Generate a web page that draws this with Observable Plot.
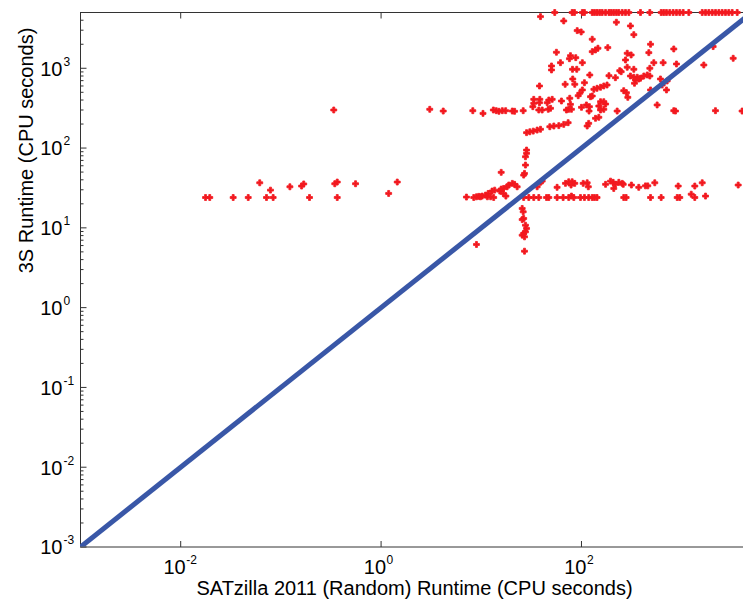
<!DOCTYPE html>
<html>
<head>
<meta charset="utf-8">
<script src="https://cdn.jsdelivr.net/npm/d3@7"></script>
<script src="https://cdn.jsdelivr.net/npm/@observablehq/plot@0.6"></script>
<style>
  html, body { margin: 0; padding: 0; background: #ffffff; }
  #chart svg { display: block; }
</style>
</head>
<body>
<div id="chart"></div>
<script>
// ---- Data ----
// SATzilla 2011 (Random) runtime (x) vs 3S runtime (y), CPU seconds
const satzillaRuntime = [
  0.0177,0.0195,0.0334,0.0472,0.0615,0.0718,0.0787,0.0837,0.123,0.161,0.169,0.193,0.345,0.365,0.365,0.556,1.19,1.45,0.337,3.06,4.17,
  8.23,10.4,13.2,14.1,15.0,16.2,17.5,20.4,21.5,26.2,
  32.7,33.4,38.4,33.4,38.1,37.5,40.5,47.2,51,45.5,46.6,49.1,63.1,76.4,77.6,70.8,74.6,79.4,100,112,120,119,123,92.7,96.2,102,107,81.8,68.7,85.7,38.1,121,50.2,50.2,81.3,89.7,61.7,102,56.2,77.6,75.8,87.7,128,128,90.6,99.3,66.5,39,
  28.3,30.5,33,36.1,39,48.3,53,59.4,66.5,73.6,118,114,
  28.3,28.3,27.6,27.6,27,26.5,15.8,
  20.4,21.5,22.8,18.8,18.1,16.7,15.8,15.3,16.6,17.6,13.6,12.8,11.7,11,10.2,9.44,8.95,7.11,11.5,12.4,13.3,9.8,8.41,
  26.5,29.8,33.4,37.5,44.8,47.2,57.1,65.6,74.6,79.4,83.8,97.7,107,118,128,135,143,264,279,489,624,902,957,1352,1730,1245,
  36.1,39,40.5,
  57.1,69.2,74.6,80.7,85.7,78.7,104,114,117,174,195,207,218,210,236,255,261,315,373,435,459,539,923,1352,1603,3664,
  25.6,26.2,26.5,27.6,28.3,27.6,26.5,25.6,27,27,8.95,25.6,
  223,308,333,489,146,138,183,834,286,313,470,275,527,653,887,1663,3266,286,333,481,241,249,188,218,308,333,360,388,419,453,481,346,373,338,614,716,167,155,143,133,180,264,281,489,638,705,128,290,155,167,174,149,569,167,155,227,834,867,2173,149,138,2061,4010
];
const threeSRuntime = [
  24,24,24,24,36.7,24,29.7,24,32.7,33.4,35.5,24,35.7,37.5,24,35.7,27,37.5,300,306,291,
  294,272,300,294,289,294,294,291,289,294,
  330,408,408,364,370,300,300,400,408,370,306,315,389,421,353,300,306,306,324,347,330,291,440,453,486,535,659,734,630,630,600,824,1069,953,971,971,1175,1175,1588,1439,1318,1358,1616,2312,2965,2853,3920,4440,
  156,160,163,168,172,185,189,191,198,208,204,189,
  94.4,85.9,77.8,61.2,48.1,45.8,49.6,
  36.1,35.1,32.7,34.4,32.7,31.2,30.6,28.9,27,25,29.7,28.9,27,25.7,25,24.8,24.5,24.3,24.5,24.5,24,24.5,24,
  24,24,24,24,24,24,24,24,24,25,24,24,24,24,24,24,24,24,24,24,24,24,24,24,25,26.4,
  32.7,37.2,38.5,
  32.2,36.1,37.8,37.8,36.1,34.4,36.1,36.7,32.7,35.1,38.5,37.2,35.1,31.2,37.2,36.1,35.1,34.4,32.2,33.6,33.6,36.7,33.4,33.4,36.7,34.4,
  17.5,15.9,13.1,10.8,9.84,8.92,8.51,8.1,7.71,5.1,6.19,12.7,
  3776,3396,2638,2000,1782,1698,1815,1746,1542,1469,1570,1271,1175,1175,1132,1099,1334,1030,971,1000,933,906,807,762,800,771,771,750,800,824,800,713,734,649,734,693,600,578,561,545,617,524,494,535,617,535,449,432,381,381,356,336,347,306,300,291,294,291,294,243,236,1871,291
];
// Instances where 3S hit the 5000 s cutoff (x = SATzilla runtime)
const timeoutSatzilla = [54.1,80.7,85.1,102,107,128,135,143,152,161,174,188,198,210,223,236,255,275,297,388,481,624,662,705,760,822,887,957,1035,1178,1603,1730,1866,2018,2178,2350,2535,2735,2951,3192,3581];
const timeoutCap = 5000;

// Axis setup
const xDomain = [0.001, 4140];
const yDomain = [0.001, 5000];
const diagonal = [0.001, 5000];
const yTickExps = [-3, -2, -1, 0, 1, 2, 3];
const xTickExps = [-2, 0, 2];
const minorMultipliers = [2, 3, 4, 5, 6, 7, 8, 9];
const xTitle = "SATzilla 2011 (Random) Runtime (CPU seconds)";
const yTitle = "3S Runtime (CPU seconds)";

// ---- Build ----
const points = satzillaRuntime.map((x, i) => ({x, y: threeSRuntime[i]}))
  .concat(timeoutSatzilla.map(x => ({x, y: timeoutCap})));
const yTicks = yTickExps.map(e => ({v: Math.pow(10, e), e}));
const xTicks = xTickExps.map(e => ({v: Math.pow(10, e), e}));
const yMinor = [];
for (let e = -3; e <= 3; e++) for (const m of minorMultipliers) {
  const v = m * Math.pow(10, e);
  if (v < yDomain[1]) yMinor.push(v);
}

const tickSym = (dx, dy) => ({draw(ctx) { ctx.moveTo(0, 0); ctx.lineTo(dx, dy); }});
const axisColor = "#333333";
const font = "'Liberation Sans', Arial, Helvetica, sans-serif";

const chart = Plot.plot({
  width: 743,
  height: 605,
  marginLeft: 80,
  marginRight: 0,
  marginTop: 12,
  marginBottom: 58.5,
  x: {type: "log", domain: xDomain, axis: null},
  y: {type: "log", domain: yDomain, axis: null},
  style: {fontFamily: font, background: "#ffffff", color: "#000000"},
  marks: [
    // frame
    Plot.ruleX([xDomain[0]], {stroke: axisColor, strokeWidth: 1}),
    Plot.ruleY([yDomain[0]], {stroke: axisColor, strokeWidth: 1}),
    Plot.ruleY([yDomain[1]], {stroke: axisColor, strokeWidth: 1}),
    // y ticks (inward)
    Plot.dot(yTicks, {x: () => xDomain[0], y: "v", r: 1, symbol: tickSym(6, 0), fill: "none", stroke: axisColor, strokeWidth: 1}),
    Plot.dot(yMinor, {x: () => xDomain[0], y: d => d, r: 1, symbol: tickSym(3, 0), fill: "none", stroke: axisColor, strokeWidth: 1}),
    // x ticks bottom and top (inward)
    Plot.dot(xTicks, {x: "v", y: () => yDomain[0], r: 1, symbol: tickSym(0, -6), fill: "none", stroke: axisColor, strokeWidth: 1}),
    Plot.dot(xTicks, {x: "v", y: () => yDomain[1], r: 1, symbol: tickSym(0, 6), fill: "none", stroke: axisColor, strokeWidth: 1}),
    // data points
    Plot.dot(points, {x: "x", y: "y", symbol: "cross", r: 2.5, fill: "#f2191f", stroke: "#f2191f", strokeWidth: 0.8}),
    // y = x line
    Plot.line(diagonal, {x: d => d, y: d => d, stroke: "#3957a7", strokeWidth: 5, clip: true, strokeLinecap: "butt"}),
    // y tick labels
    Plot.text(yTicks, {x: () => xDomain[0], y: "v", text: () => "10", textAnchor: "end", dx: -18, dy: 1, fontSize: 20, fill: "#000"}),
    Plot.text(yTicks, {x: () => xDomain[0], y: "v", text: d => String(d.e), textAnchor: "start", dx: -17, dy: -6.5, fontSize: 12, fill: "#000"}),
    // x tick labels
    Plot.text(xTicks, {x: "v", y: () => yDomain[0], text: () => "10", textAnchor: "end", dx: 5, dy: 21, fontSize: 20, fill: "#000"}),
    Plot.text(xTicks, {x: "v", y: () => yDomain[0], text: d => String(d.e), textAnchor: "start", dx: 5.5, dy: 13, fontSize: 12, fill: "#000"}),
    // axis titles
    Plot.text([xTitle], {frameAnchor: "bottom", text: d => d, dx: 2.5, dy: 47.5, fontSize: 20, fill: "#000"}),
    Plot.text([yTitle], {frameAnchor: "left", text: d => d, rotate: -90, dx: -54, dy: -6.5, fontSize: 20, fill: "#000"})
  ]
});
document.getElementById("chart").appendChild(chart);
</script>
</body>
</html>
